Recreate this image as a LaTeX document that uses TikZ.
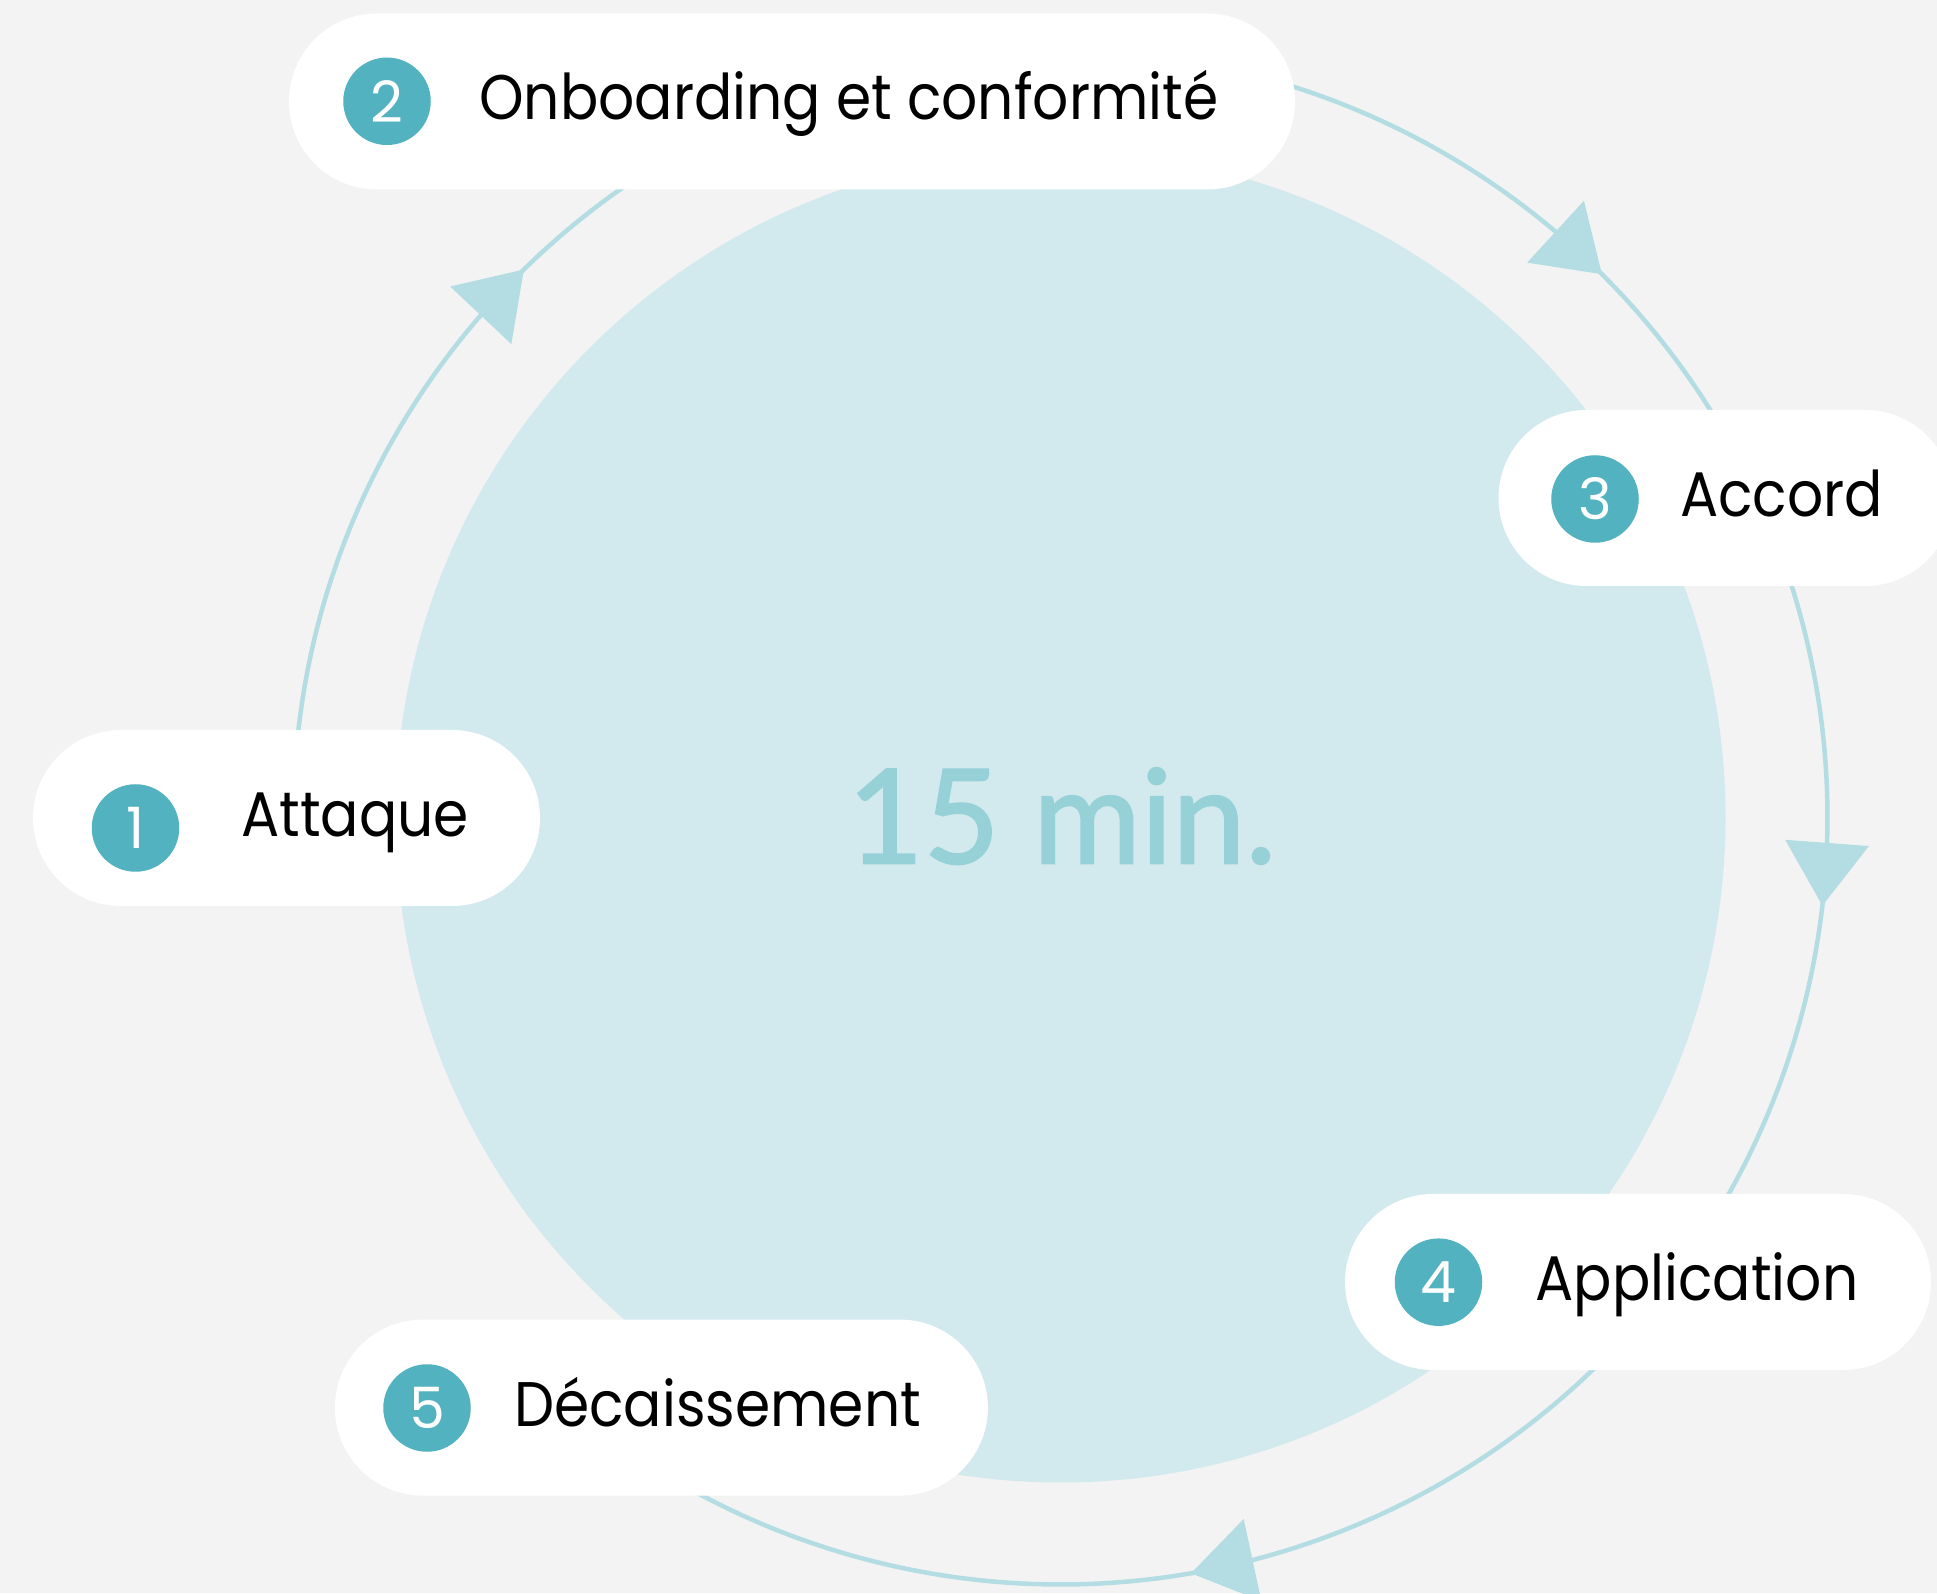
\documentclass[tikz,border=0pt]{standalone}
\usepackage{fontspec}
\newfontfamily\labfont{Poppins}[FakeStretch=0.9]
\newfontfamily\numfont{Poppins}
\newfontfamily\timefont{Lato}[FakeBold=1.6]
\usetikzlibrary{calc}
\definecolor{bgc}{HTML}{F3F3F3}
\definecolor{discc}{HTML}{D2EAED}
\definecolor{ringc}{HTML}{B3DDE2}
\definecolor{badgec}{HTML}{52B2BF}
\definecolor{timec}{HTML}{97D1D8}
\begin{document}
\begin{tikzpicture}[x=1pt,y=1pt,
  pill/.style={fill=white, rounded corners=88pt, minimum height=176pt, inner sep=0pt, draw=none},
  badge/.style={circle, fill=badgec, minimum size=87.5pt, inner sep=0pt, text=white,
    font=\numfont\fontsize{57}{57}\selectfont},
  steptext/.style={anchor=base west, inner sep=0pt, text=black,
    font=\labfont\fontsize{63}{63}\selectfont},
  ring/.style={draw=ringc, line width=4.5pt},
  tipfill/.style={fill=ringc}]
\clip (0,0) rectangle (1937,1593);
\fill[bgc] (0,0) rectangle (1937,1593);
\coordinate (c) at (1060.5,775.5);
% central disc
\fill[discc] (c) circle[radius=665];
\node[anchor=base, inner sep=0pt, text=timec, font=\timefont\fontsize{131}{131}\selectfont] (time) at (1062,729.7) {15 min.};
% ring arcs between steps
\def\R{767}
\path (c) ++(180:\R) coordinate (r1)
      (c) ++(90:\R) coordinate (r2)
      (c) ++(24.6:\R) coordinate (r3)
      (c) ++(-37.3:\R) coordinate (r4)
      (c) ++(-129.7:\R) coordinate (r5);
\draw[ring] (r1) arc[start angle=180, end angle=90, radius=\R];
\draw[ring] (r2) arc[start angle=90, end angle=24.6, radius=\R];
\draw[ring] (r3) arc[start angle=24.6, end angle=-37.3, radius=\R];
\draw[ring] (r4) arc[start angle=-37.3, end angle=-129.7, radius=\R];
% arrowheads
\foreach \a in {134.4,45.1,-6.6,-80.2}{
  \path (c) ++(\a:\R) coordinate (T) (c) ++(\a+4.7:\R) coordinate (M);
  \fill[tipfill] (T) -- ($(M)!42pt!90:(T)$) -- ($(M)!42pt!-90:(T)$) -- cycle;
}
% step boxes
\node[pill, minimum width=507] (b1) at (286.5,775) {};
\node[pill, minimum width=1006] (b2) at (792,1491.5) {};
\node[pill, minimum width=454.5] (b3) at (1725.75,1095) {};
\node[pill, minimum width=586] (b4) at (1638,311) {};
\node[pill, minimum width=653] (b5) at (661.4,185.4) {};
% badges
\node[badge] (n1) at (135.5,765) {1};
\node[badge] (n2) at (387,1491.7) {2};
\node[badge] (n3) at (1595,1094) {3};
\node[badge] (n4) at (1438.5,310.8) {4};
\node[badge] (n5) at (427,185) {5};
% labels
\node[steptext] (t1) at (241,756.5) {Attaque};
\node[steptext] (t2) at (479,1473) {Onboarding et conformité};
\node[steptext] (t3) at (1680,1076.5) {Accord};
\node[steptext] (t4) at (1535.5,292.5) {Application};
\node[steptext] (t5) at (514,167) {Décaissement};
\end{tikzpicture}
\end{document}
